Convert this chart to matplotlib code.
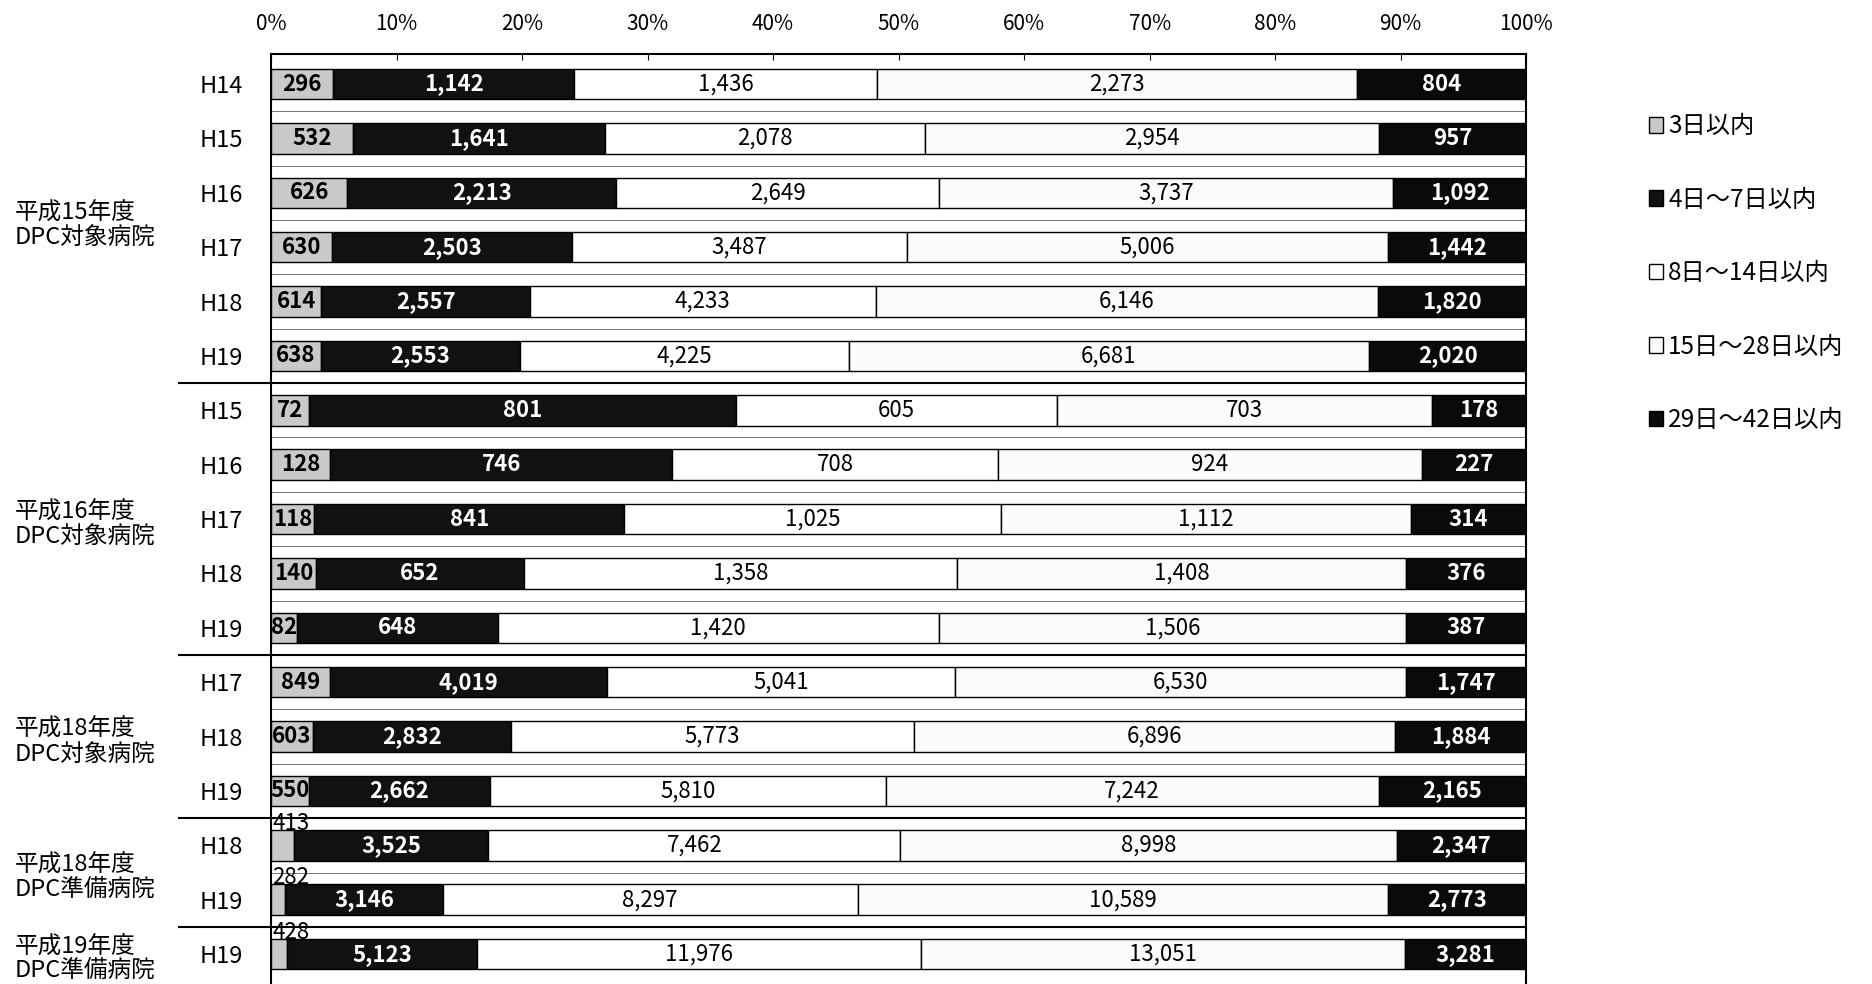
import numpy as np
import matplotlib
matplotlib.use('Agg')
import matplotlib.pyplot as plt
from matplotlib import transforms

plt.rcParams['font.family'] = ['Noto Sans CJK JP', 'DejaVu Sans']

# rows top to bottom
years = ['H14', 'H15', 'H16', 'H17', 'H18', 'H19',
         'H15', 'H16', 'H17', 'H18', 'H19',
         'H17', 'H18', 'H19',
         'H18', 'H19',
         'H19']
d3 = [296, 532, 626, 630, 614, 638, 72, 128, 118, 140, 82, 849, 603, 550, 413, 282, 428]
d4_7 = [1142, 1641, 2213, 2503, 2557, 2553, 801, 746, 841, 652, 648, 4019, 2832, 2662, 3525, 3146, 5123]
d8_14 = [1436, 2078, 2649, 3487, 4233, 4225, 605, 708, 1025, 1358, 1420, 5041, 5773, 5810, 7462, 8297, 11976]
d15_28 = [2273, 2954, 3737, 5006, 6146, 6681, 703, 924, 1112, 1408, 1506, 6530, 6896, 7242, 8998, 10589, 13051]
d29_42 = [804, 957, 1092, 1442, 1820, 2020, 178, 227, 314, 376, 387, 1747, 1884, 2165, 2347, 2773, 3281]
series_names = ['3日以内', '4日～7日以内', '8日～14日以内', '15日～28日以内', '29日～42日以内']

groups = ['平成15年度\nDPC対象病院', '平成16年度\nDPC対象病院', '平成18年度\nDPC対象病院',
          '平成18年度\nDPC準備病院', '平成19年度\nDPC準備病院']
group_sizes = [6, 5, 3, 2, 1]

colors = ['#c9c9c9', '#111111', '#ffffff', '#fbfbfb', '#0a0a0a']
text_colors = ['black', 'white', 'black', 'black', 'white']
text_weights = ['bold', 'bold', 'normal', 'normal', 'bold']

data = np.array([d3, d4_7, d8_14, d15_28, d29_42], dtype=float)
totals = data.sum(axis=0)
pct = data / totals * 100

fig = plt.figure(figsize=(18.72, 9.84), dpi=100)
ax = fig.add_axes([0.1448, 0.0, 0.6705, 0.945])

y = np.arange(len(years))
left = np.zeros(len(years))
handles = []
for k in range(5):
    h = ax.barh(y, pct[k], left=left, height=0.56, color=colors[k],
                edgecolor='black', linewidth=1.0, label=series_names[k], zorder=3)
    handles.append(h)
    for i in range(len(years)):
        val = int(data[k][i])
        txt = f'{val:,}'
        if k == 0 and pct[k][i] < 1.9:
            # too small: label sits above the bar
            ax.text(0.1, y[i] - 0.40, txt, ha='left', va='center', fontsize=16,
                    color='black', zorder=5)
        else:
            ax.text(left[i] + pct[k][i] / 2, y[i], txt, ha='center', va='center',
                    fontsize=16, color=text_colors[k], fontweight=text_weights[k], zorder=5)
    left += pct[k]

ax.set_xlim(0, 100)
ax.set_ylim(len(years) - 0.45, -0.55)
ax.set_yticks(y)
ax.set_yticklabels(years, fontsize=17)
ax.tick_params(axis='y', length=0, pad=20)
ax.xaxis.tick_top()
ax.set_xticks(np.arange(0, 101, 10))
ax.set_xticklabels([f'{v}%' for v in range(0, 101, 10)], fontsize=15)
ax.tick_params(axis='x', length=4, direction='in', pad=14)
for s in ['top', 'left', 'right']:
    ax.spines[s].set_linewidth(1.5)
ax.spines['bottom'].set_visible(False)

# faint row separators
for b in np.arange(0.5, len(years) - 0.5, 1):
    ax.axhline(b, color='#777777', linewidth=0.7, zorder=1)

# group separators and group labels
trans = transforms.blended_transform_factory(ax.transAxes, ax.transData)
ftrans = transforms.blended_transform_factory(fig.transFigure, ax.transData)
start = 0
for g, n in zip(groups, group_sizes):
    end = start + n
    if end < len(years):
        ax.plot([-0.073, 1.0], [end - 0.5, end - 0.5], color='black', linewidth=1.5,
                transform=trans, clip_on=False, zorder=4)
    ax.text(0.008, (start + end - 1) / 2 + 0.1, g, transform=ftrans, ha='left',
            va='center', fontsize=17, linespacing=1.1)
    start = end

fig.legend(handles=handles, labels=series_names, loc='upper left',
           bbox_to_anchor=(0.869, 0.907), frameon=False, fontsize=17.5,
           handlelength=0.6, handleheight=0.6, handletextpad=0.2, labelspacing=1.95)

fig.savefig('out.png', dpi=100)
